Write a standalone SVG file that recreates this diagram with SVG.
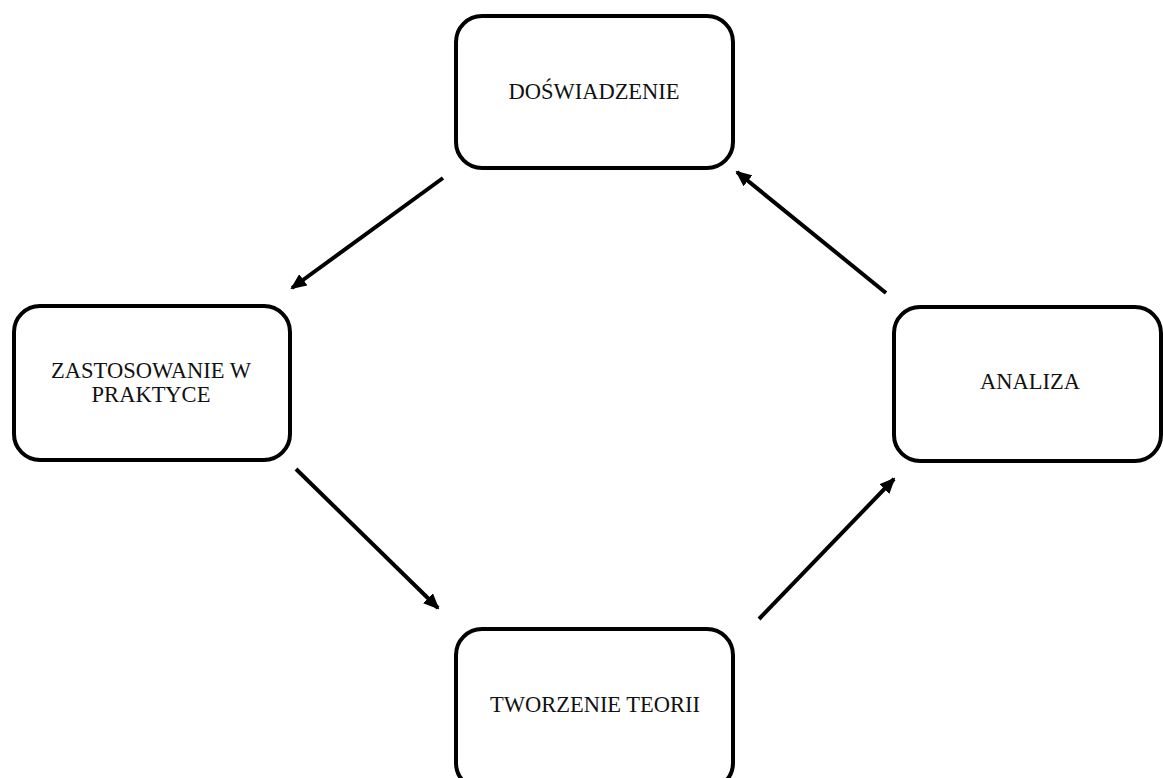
<svg xmlns="http://www.w3.org/2000/svg" width="1163" height="778" viewBox="0 0 1163 778">
<style>
.box{fill:#fff;stroke:#000;stroke-width:4}
.lbl{font-family:"Liberation Serif","Times New Roman",serif;font-size:22.5px;fill:#111;text-anchor:middle}
.con{stroke:#000;stroke-width:4;fill:none;marker-end:url(#ah)}
</style>
<defs>
<marker id="ah" markerUnits="userSpaceOnUse" markerWidth="16" markerHeight="14" refX="14" refY="7" orient="auto">
<path d="M0,0 L16,7 L0,14 Z" fill="#000"/>
</marker>
</defs>
<rect width="1163" height="778" fill="#fff"/>
<g id="connectors">
<line class="con" x1="443" y1="178" x2="292" y2="288"/>
<line class="con" x1="886" y1="293" x2="737" y2="172"/>
<line class="con" x1="296" y1="469" x2="438" y2="608"/>
<line class="con" x1="759" y1="619" x2="894" y2="479"/>
</g>
<g id="doswiadczenie">
<rect class="box" x="456" y="16" width="277" height="152" rx="26"/>
<text class="lbl" x="594" y="99">DOŚWIADZENIE</text>
</g>
<g id="zastosowanie">
<rect class="box" x="14" y="306" width="276" height="154" rx="26"/>
<text class="lbl" x="151" y="378">ZASTOSOWANIE W</text>
<text class="lbl" x="151" y="402">PRAKTYCE</text>
</g>
<g id="analiza">
<rect class="box" x="894" y="307" width="267" height="154" rx="26"/>
<text class="lbl" x="1030" y="389">ANALIZA</text>
</g>
<g id="tworzenie">
<rect class="box" x="456" y="629" width="277" height="160" rx="26"/>
<text class="lbl" x="595" y="712">TWORZENIE TEORII</text>
</g>
</svg>
